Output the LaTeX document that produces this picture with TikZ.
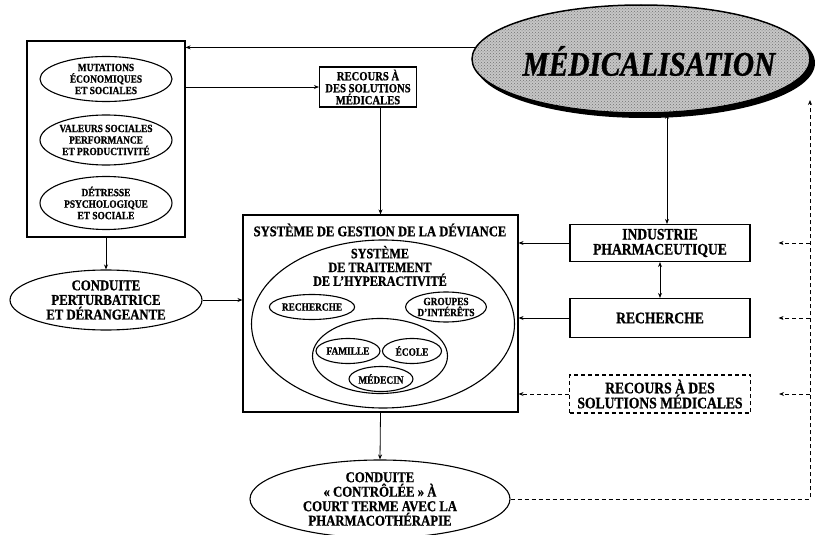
\documentclass[tikz,border=0pt]{standalone}
\usepackage{fontspec}
\setmainfont{Liberation Serif}[FakeStretch=0.85, BoldFeatures={FakeBold=0.9}, BoldItalicFeatures={FakeBold=0.9}]
\usepackage{tikz}
\usetikzlibrary{shapes.geometric, arrows.meta, patterns, calc}

\begin{document}
\begin{tikzpicture}[x=1pt, y=-1pt,
		texte/.style={font=\bfseries, align=center, inner sep=0pt},
		petit/.style={texte, font=\bfseries\fontsize{11}{11.5}\selectfont},
		moyen/.style={texte, font=\bfseries\fontsize{12.5}{12}\selectfont},
		grand/.style={texte, font=\bfseries\fontsize{16}{15}\selectfont},
		oval/.style={ellipse, draw, line width=1.1pt},
		bloc/.style={rectangle, draw, line width=1.1pt},
		fleche/.style={-{Stealth[length=5pt, width=4pt]}, line width=0.8pt},
		doublefleche/.style={{Stealth[length=5pt, width=4pt]}-{Stealth[length=5pt, width=4pt]}, line width=0.8pt},
		pointille/.style={fleche, dash pattern=on 4pt off 3pt}]
			\useasboundingbox (0,0) rectangle (815,535);
			
			\coordinate (coin) at (810, 499);
			\coordinate (haut) at (810, 100);
			
			% facteurs sociaux
			\node[bloc, minimum width=158, minimum height=196] (facteurs) at (106, 139) {};
			\node[oval, petit, minimum width=132, minimum height=45] (mutations) at (106, 79) {MUTATIONS\\ÉCONOMIQUES\\ET SOCIALES};
			\node[oval, petit, minimum width=132, minimum height=50] (valeurs) at (106, 140) {VALEURS SOCIALES\\PERFORMANCE\\ET PRODUCTIVITÉ};
			\node[oval, petit, minimum width=132, minimum height=53] (detresse) at (106, 203) {DÉTRESSE\\PSYCHOLOGIQUE\\ET SOCIALE};
			
			\node[oval, grand, font=\bfseries\fontsize{15}{14.6}\selectfont, minimum width=192, minimum height=60] (perturbatrice) at (106, 300) {CONDUITE\\PERTURBATRICE\\ET DÉRANGEANTE};
			
			% medicalisation
			\fill[black] (645, 63) ellipse [x radius=170, y radius=55];
			\node[ellipse, draw, line width=1.5pt, fill=gray!45, minimum width=338, minimum height=108] (medicalisation) at (641, 59) {};
			\fill[pattern=crosshatch dots, pattern color=black!55] (medicalisation.center) ellipse [x radius=168, y radius=53];
			\node[texte, font=\bfseries\itshape\fontsize{34.5}{35}\selectfont] (medlabel) at (649, 61) {MÉDICALISATION};
			
			\node[bloc, moyen, minimum width=97, minimum height=40] (recourshaut) at (368, 87) {RECOURS À\\DES SOLUTIONS\\MÉDICALES};
			
			% systeme
			\node[bloc, minimum width=275, minimum height=197] (systeme) at (380.5, 313.5) {};
			\node[texte, font=\bfseries\fontsize{14.8}{13}\selectfont] (systemelabel) at (380, 230) {SYSTÈME DE GESTION DE LA DÉVIANCE};
			\node[oval, minimum width=263, minimum height=168] (traitement) at (383, 324) {};
			\node[texte, font=\bfseries\fontsize{14.3}{13.8}\selectfont] (traitementlabel) at (380, 266) {SYSTÈME\\DE TRAITEMENT\\DE L'HYPERACTIVITÉ};
			\node[oval, petit, minimum width=81, minimum height=25] (recherche) at (312, 307) {RECHERCHE};
			\node[oval, petit, font=\bfseries\fontsize{11}{11}\selectfont, minimum width=78, minimum height=30] (groupes) at (446, 307) {GROUPES\\D'INTÉRÊTS};
			\node[oval, minimum width=135, minimum height=75] (proches) at (380, 356) {};
			\node[oval, petit, minimum width=64, minimum height=25] (famille) at (348, 351) {FAMILLE};
			\node[oval, petit, minimum width=59, minimum height=25] (ecole) at (412, 351) {ÉCOLE};
			\node[oval, petit, minimum width=62, minimum height=25] (medecin) at (381, 379) {MÉDECIN};
			
			\node[oval, grand, font=\bfseries\fontsize{15}{14.5}\selectfont, minimum width=260, minimum height=78] (controlee) at (380, 499) {CONDUITE\\«~CONTRÔLÉE~»~À\\COURT TERME AVEC LA\\PHARMACOTHÉRAPIE};
			
			% acteurs
			\node[bloc, grand, minimum width=180, minimum height=37] (industrie) at (660, 243) {INDUSTRIE\\PHARMACEUTIQUE};
			\node[bloc, grand, minimum width=180, minimum height=39] (recherchebox) at (660, 318) {RECHERCHE};
			\node[bloc, grand, dash pattern=on 4pt off 3pt, minimum width=181, minimum height=38] (recoursbas) at (660, 394) {RECOURS À DES\\SOLUTIONS MÉDICALES};
			
			\draw[fleche] (medicalisation.176) -- (medicalisation.176 -| facteurs.east);
			\draw[fleche] (facteurs.east |- recourshaut.west) -- (recourshaut.west);
			\draw[fleche] (recourshaut.south -| systeme.north) -- (systeme.north);
			\draw[fleche] (facteurs.south) -- (perturbatrice.north);
			\draw[fleche] (perturbatrice.east) -- (perturbatrice.east -| systeme.west);
			\draw[fleche] (systeme.south) -- (controlee.north);
			
			\draw[doublefleche] ([xshift=7]industrie.north) -- ([xshift=7]industrie.north |- medicalisation.south);
			\draw[doublefleche] (industrie.south) -- (recherchebox.north);
			\draw[fleche] (industrie.west) -- (industrie.west -| systeme.east);
			\draw[fleche] (recherchebox.west) -- (recherchebox.west -| systeme.east);
			\draw[pointille] (recoursbas.west) -- (recoursbas.west -| systeme.east);
			
			\draw[pointille] (controlee.east) -- (coin) -- (haut);
			\draw[pointille] (industrie.east -| coin) -- ([xshift=28]industrie.east);
			\draw[pointille] (recherchebox.east -| coin) -- ([xshift=28]recherchebox.east);
			\draw[pointille] (recoursbas.east -| coin) -- ([xshift=28]recoursbas.east);
			
		\end{tikzpicture}
\end{document}
